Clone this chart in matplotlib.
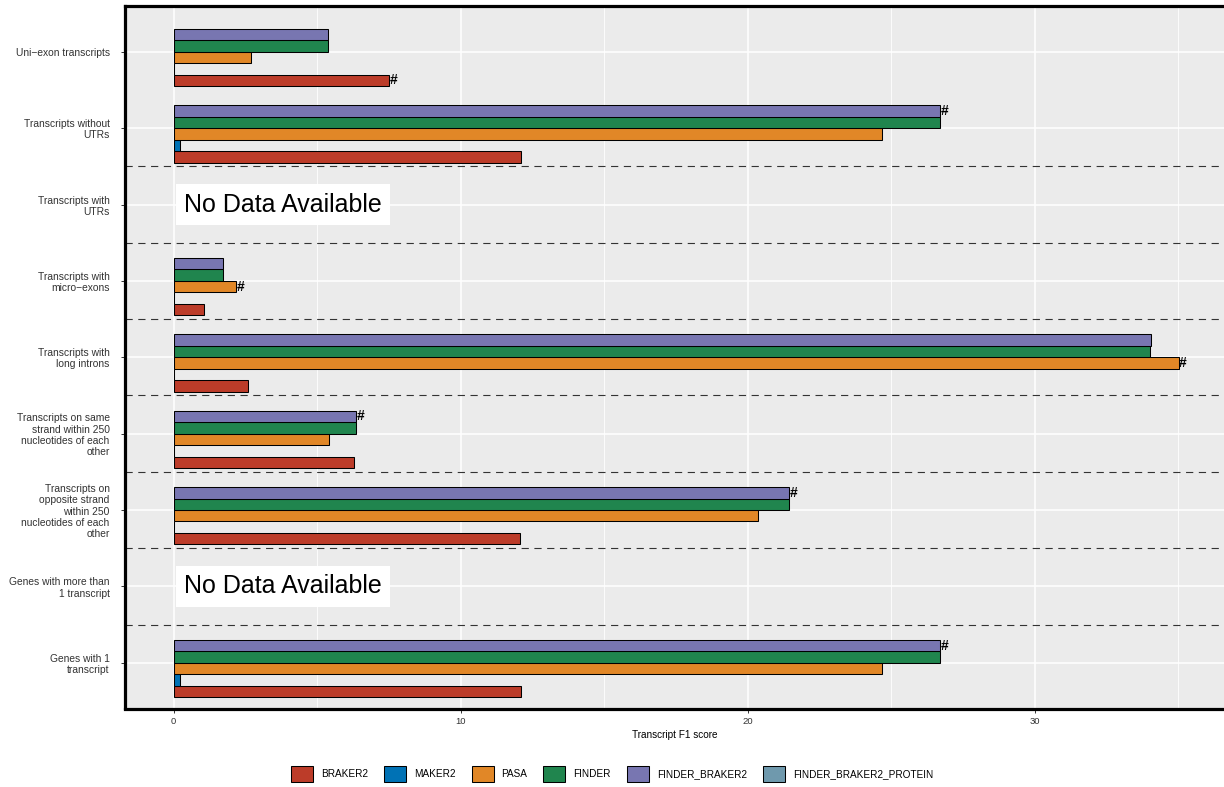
import numpy as np
import matplotlib
matplotlib.use('Agg')
import matplotlib.pyplot as plt
from matplotlib.patches import Patch

plt.rcParams['font.family'] = ['Liberation Sans', 'DejaVu Sans']

# categories from top to bottom
categories = [
    'Uni−exon transcripts',
    'Transcripts without\nUTRs',
    'Transcripts with\nUTRs',
    'Transcripts with\nmicro−exons',
    'Transcripts with\nlong introns',
    'Transcripts on same\nstrand within 250\nnucleotides of each\nother',
    'Transcripts on\nopposite strand\nwithin 250\nnucleotides of each\nother',
    'Genes with more than\n1 transcript',
    'Genes with 1\ntranscript',
]

nan = np.nan
braker2 = [7.51, 12.10, nan, 1.06, 2.60, 6.28, 12.07, nan, 12.10]
maker2 = [0.0, 0.23, nan, 0.0, 0.0, 0.0, 0.0, nan, 0.23]
pasa = [2.71, 24.69, nan, 2.18, 35.02, 5.40, 20.37, nan, 24.69]
finder = [5.37, 26.69, nan, 1.72, 34.03, 6.34, 21.43, nan, 26.69]
finder_braker2 = [5.39, 26.71, nan, 1.73, 34.04, 6.35, 21.44, nan, 26.71]
finder_braker2_protein = [nan] * 9

tools = ['BRAKER2', 'MAKER2', 'PASA', 'FINDER', 'FINDER_BRAKER2', 'FINDER_BRAKER2_PROTEIN']
series = [braker2, maker2, pasa, finder, finder_braker2, finder_braker2_protein]
colors = ['#BC3C29', '#0072B5', '#E18727', '#20854E', '#7876B1', '#6F99AD']

n_cat = len(categories)
ypos = np.arange(n_cat, 0, -1)  # top category sits highest
slot = 0.9 / len(tools)
offsets = (np.arange(len(tools)) - (len(tools) - 1) / 2) * slot

fig = plt.figure(figsize=(12.24, 7.87), dpi=100)
ax = fig.add_axes([125 / 1224, 1 - 708.5 / 787, 1 - 125 / 1224, 702.5 / 787])
ax.set_facecolor('#EBEBEB')

for vals, off, col in zip(series, offsets, colors):
    vals = np.array(vals, dtype=float)
    ok = ~np.isnan(vals)
    ax.barh(ypos[ok] + off, vals[ok], height=slot, color=col,
            edgecolor='black', linewidth=0.75, zorder=3)

# mark the best tool in every category
table = np.array(series, dtype=float)
for i in range(n_cat):
    col_vals = table[:, i]
    if np.all(np.isnan(col_vals)):
        ax.annotate('No Data Available', xy=(0, ypos[i]), xytext=(7.4, 0),
                    textcoords='offset points', fontsize=18, ha='left', va='center',
                    color='black', zorder=5,
                    bbox=dict(boxstyle='square,pad=0.33', facecolor='white', edgecolor='none'))
        continue
    k = np.nanargmax(col_vals)
    ax.text(col_vals[k] + 0.02, ypos[i] + offsets[k], '#', fontsize=10,
            fontweight='bold', ha='left', va='center', zorder=5)

# dashed separators between categories
for y in np.arange(1.5, n_cat - 1, 1.0):
    ax.axhline(y, color='#333333', linestyle=(0, (6.5, 5)), linewidth=0.8, zorder=2)

ax.set_xlim(-1.697, 36.6)
ax.set_ylim(0.4, n_cat + 0.6)
ax.set_xticks([0, 10, 20, 30])
ax.set_xticks([5, 15, 25, 35], minor=True)
ax.set_yticks(ypos)
ax.set_yticklabels(categories, fontsize=7.4, color='#333333', linespacing=1.15,
                   multialignment='right')

ax.grid(which='major', color='white', linewidth=1.1, zorder=0)
ax.grid(which='minor', axis='x', color='white', linewidth=0.6, zorder=0)
ax.set_axisbelow(True)

ax.tick_params(axis='y', length=3, width=0.7, color='#333333', pad=8)
ax.tick_params(axis='x', which='major', length=3, width=0.7, color='#333333',
               pad=3, labelsize=6.8, labelcolor='#333333')
ax.tick_params(axis='x', which='minor', length=0)

for side in ['left', 'top', 'bottom']:
    ax.spines[side].set_linewidth(2.3)
    ax.spines[side].set_color('black')
ax.spines['right'].set_visible(False)

ax.set_xlabel('Transcript F1 score', fontsize=7.2, labelpad=3)

handles = [Patch(facecolor=c, edgecolor='black', linewidth=0.75) for c in colors]
fig.legend(handles, tools, loc='center', bbox_to_anchor=(0.5, 1 - 774 / 787),
           ncol=len(tools), frameon=False, fontsize=7.2, handlelength=2.2,
           handleheight=2.2, handletextpad=0.8, columnspacing=1.6)

fig.savefig('out.png', dpi=100)
